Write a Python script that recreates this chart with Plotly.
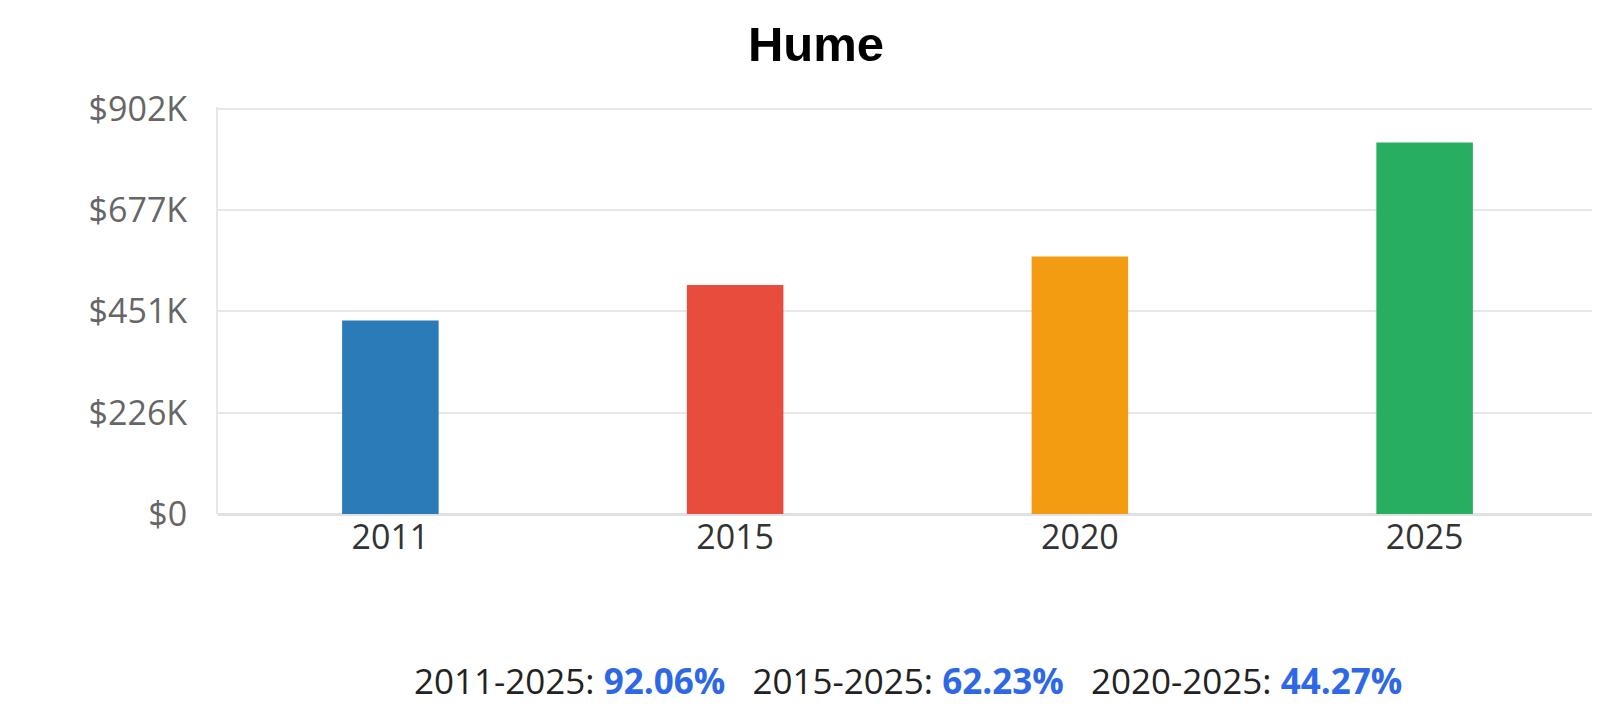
import plotly.graph_objects as go

# bar data (median values)
years = ["2011", "2015", "2020", "2025"]
values = [430600, 509800, 573200, 827000]
bar_colors = ["#2c7bb9", "#e74c3c", "#f39c12", "#27ae60"]

# y axis ticks
y_ticks = [0, 225500, 451000, 676500, 902000]
y_labels = ["$0", "$226K", "$451K", "$677K", "$902K"]

# growth summary under the chart
periods = ["2011-2025", "2015-2025", "2020-2025"]
growth = ["92.06%", "62.23%", "44.27%"]

fig = go.Figure()
fig.add_trace(go.Bar(
    x=years, y=values,
    marker=dict(color=bar_colors, line=dict(width=0)),
    hoverinfo="skip",
))

parts = []
for p, g in zip(periods, growth):
    parts.append(p + ": <b><span style='color:#2f68e6'>" + g + "</span></b>")
summary = "\u00a0\u00a0\u00a0".join(parts)

fig.add_annotation(
    text=summary, xref="paper", yref="paper", x=0.5, y=-0.41,
    xanchor="center", yanchor="middle", showarrow=False,
    font=dict(family="Open Sans", size=35, color="#222222"),
)

fig.update_layout(
    width=1600, height=707,
    paper_bgcolor="white", plot_bgcolor="white",
    margin=dict(l=210, r=11, t=99, b=201),
    showlegend=False,
    bargap=0.72,
    title=dict(
        text="<b>Hume</b>", xref="container", yref="container",
        x=0.505, y=0.95, xanchor="center", yanchor="middle",
        font=dict(family="Liberation Sans", size=49, color="#000000"),
    ),
    xaxis=dict(
        showgrid=False, showline=False, ticks="",
        tickfont=dict(family="Open Sans", size=34, color="#333333"),
    ),
    yaxis=dict(
        range=[0, 906000], tickvals=y_ticks, ticktext=y_labels,
        showgrid=True, gridcolor="#e6e7ea", gridwidth=2,
        zeroline=True, zerolinecolor="#e0e1e5", zerolinewidth=3,
        showline=True, linecolor="#e6e7ea", linewidth=2,
        ticks="", ticklabelstandoff=22,
        tickfont=dict(family="Open Sans", size=34, color="#666666"),
    ),
)

fig.write_html("out.html")
